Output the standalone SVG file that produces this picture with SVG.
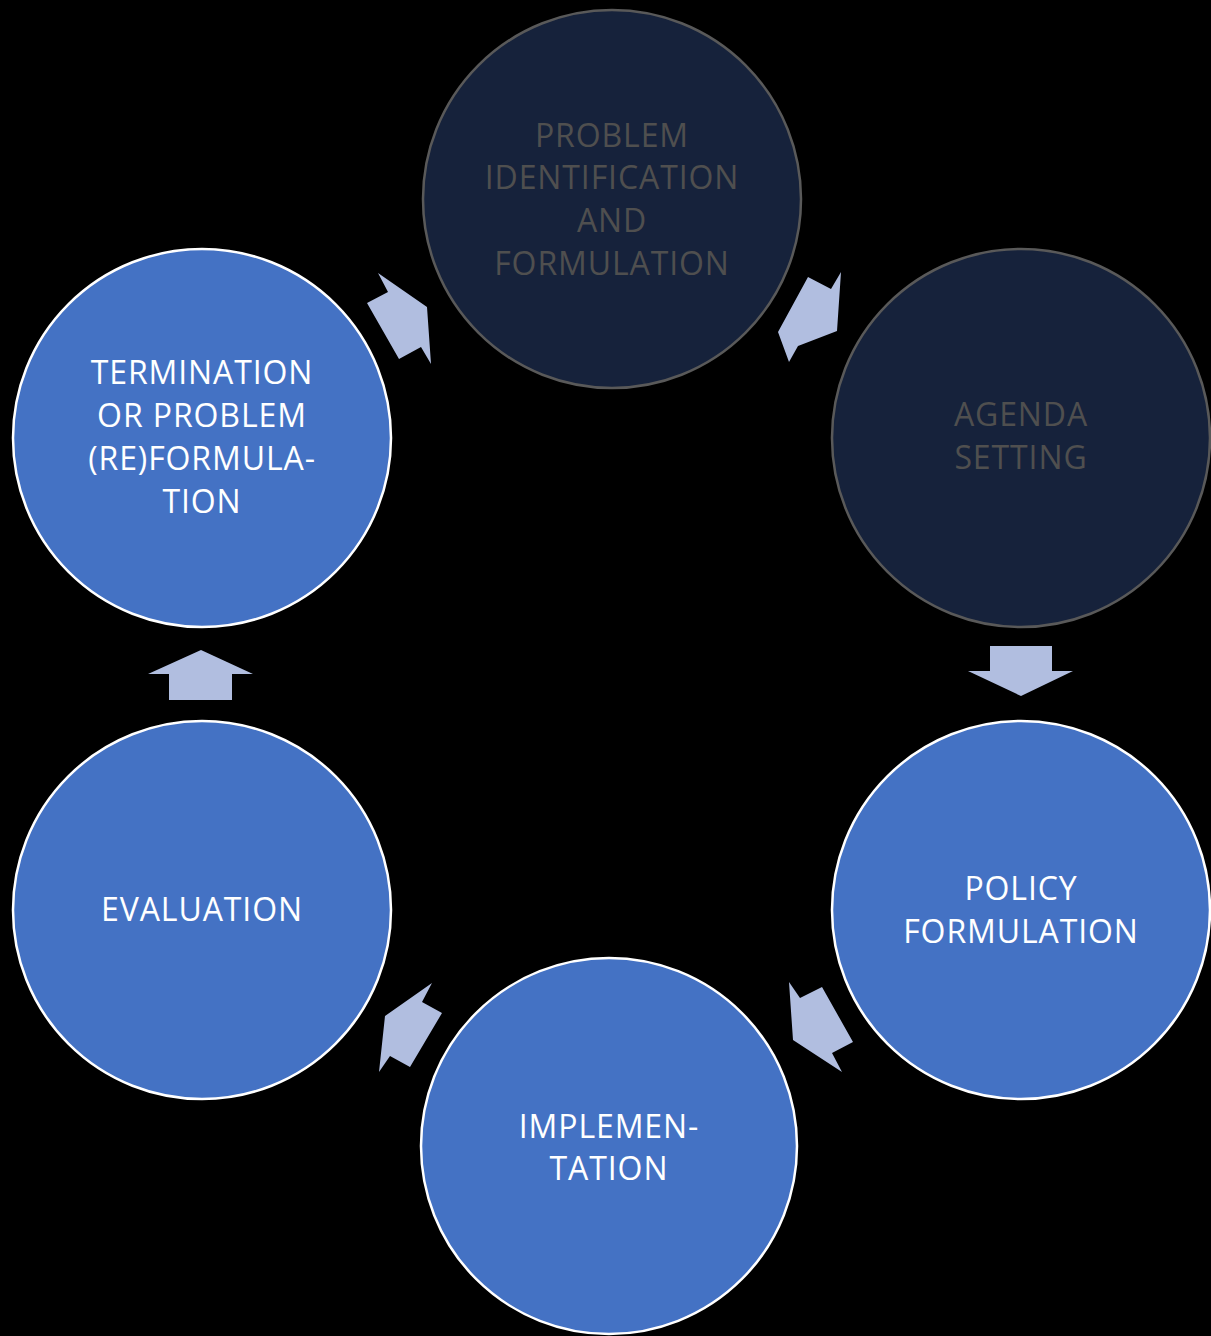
<svg xmlns="http://www.w3.org/2000/svg" width="1211" height="1336" viewBox="0 0 1211 1336">
<style>
.dark circle{fill:#16223b;stroke:#595959;stroke-width:2.5}
.blue circle{fill:#4472c4;stroke:#ffffff;stroke-width:2.5}
text{font-family:"Open Sans","Noto Sans","DejaVu Sans",sans-serif;font-size:32px;text-anchor:middle;letter-spacing:0.9px}
.dark text{fill:#4f4f4f}
.blue text{fill:#ffffff}
.arr polygon{fill:#b1bee0}
</style>
<rect width="1211" height="1336" fill="#000000"/>
<g id="connectors" class="arr">
<polygon points="378,273 388,292 367,303 399,359 421,347 431,364 427,307"/>
<polygon points="808,277 831,289 841,272 837,331 798,346 789,362 778,332"/>
<polygon points="990,646 1052,646 1052,671 1073,671 1021,696 968,671 990,671"/>
<polygon points="789,982 800,998 822,987 853,1042 832,1053 842,1072 793,1040"/>
<polygon points="432,983 422,1002 442,1013 410,1067 390,1056 379,1072 385,1016"/>
<polygon points="201,650 253,674 232,674 232,700 169,700 169,674 148,674"/>
</g>
<g id="n1" class="dark">
<circle cx="612" cy="199" r="189"/>
<text x="612" y="147">PROBLEM</text>
<text x="612" y="189">IDENTIFICATION</text>
<text x="612" y="232">AND</text>
<text x="612" y="275">FORMULATION</text>
</g>
<g id="n2" class="dark">
<circle cx="1021" cy="438" r="189"/>
<text x="1021" y="426">AGENDA</text>
<text x="1021" y="469">SETTING</text>
</g>
<g id="n3" class="blue">
<circle cx="1021" cy="910" r="189"/>
<text x="1021" y="900">POLICY</text>
<text x="1021" y="943">FORMULATION</text>
</g>
<g id="n4" class="blue">
<circle cx="609" cy="1146" r="188"/>
<text x="609" y="1138">IMPLEMEN-</text>
<text x="609" y="1180">TATION</text>
</g>
<g id="n5" class="blue">
<circle cx="202" cy="910" r="189"/>
<text x="202" y="921">EVALUATION</text>
</g>
<g id="n6" class="blue">
<circle cx="202" cy="438" r="189"/>
<text x="202" y="384">TERMINATION</text>
<text x="202" y="427">OR PROBLEM</text>
<text x="202" y="470">(RE)FORMULA-</text>
<text x="202" y="513">TION</text>
</g>
</svg>
